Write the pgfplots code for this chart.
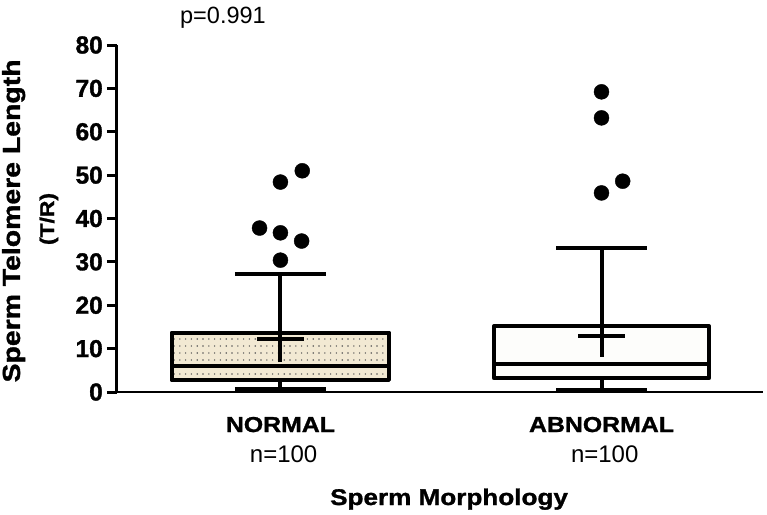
\documentclass[border=0pt]{standalone}
\usepackage{fontspec}
\setmainfont{Liberation Sans}
\newfontfamily\widefont{Liberation Sans}[FakeStretch=1.15, BoldFeatures={FakeBold=1.3}]
\newfontfamily\tickfont{Liberation Sans}[BoldFeatures={FakeBold=1.3}]
\usepackage{pgfplots}
\pgfplotsset{compat=1.18}
\usetikzlibrary{patterns.meta}

\definecolor{beige}{RGB}{242,233,211}
\definecolor{offwhite}{RGB}{253,253,251}

% sparse dot fill of the NORMAL box
\tikzdeclarepattern{
  name=sparsedots,
  type=uncolored,
  bottom left={(-1pt,-1pt)},
  top right={(4.8pt,6pt)},
  tile size={(5.8pt,7pt)},
  code={\fill (0,0) circle (0.8pt);}
}

\pgfplotsset{
  bx/.style={black, line width=4pt, line cap=butt},
}

\begin{document}
\begin{tikzpicture}
\path[use as bounding box] (-117pt,-122pt) rectangle (650pt,392pt);
\begin{axis}[
    at={(0,0)}, anchor=south west,
    scale only axis,
    width=646pt, height=347pt,
    xmin=0.491, xmax=2.503,
    ymin=0, ymax=80,
    clip=false,
    axis lines=left,
    axis line style={-, black},
    y axis line style={line width=3pt},
    x axis line style={line width=2.5pt},
    xtick={1,2},
    xticklabels={NORMAL,ABNORMAL},
    xtick style={draw=none},
    xticklabel style={font=\widefont\bfseries\fontsize{21.6}{24}\selectfont, anchor=base, yshift=-30pt},
    ytick={0,10,...,80},
    tick align=outside,
    major tick length=10pt,
    ytick style={line width=3pt, black},
    yticklabel style={font=\tickfont\bfseries\fontsize{24.5}{26}\selectfont, anchor=east, inner sep=0pt, xshift=-4pt},
    /pgf/number format/assume math mode=true,
    ylabel={Sperm Telomere Length},
    ylabel style={font=\widefont\bfseries\fontsize{24.7}{27}\selectfont, at={(axis description cs:-0.1502,0.493)}, anchor=base},
    xlabel={Sperm Morphology},
    xlabel style={font=\widefont\bfseries\fontsize{22.7}{25}\selectfont, at={(axis description cs:0.514,0)}, anchor=base, yshift=-113pt},
]
% NORMAL box
\addplot[bx, line join=round, preaction={fill=beige}, pattern=sparsedots, pattern color=black!65]
  coordinates {(0.662,2.8) (1.338,2.8) (1.338,13.6) (0.662,13.6)} -- cycle;
\addplot[bx] coordinates {(0.662,6.0) (1.338,6.0)};
\addplot[bx] coordinates {(1,6.9) (1,27.2)};
\addplot[bx] coordinates {(0.858,27.2) (1.142,27.2)};
\addplot[bx] coordinates {(0.928,12.2) (1.072,12.2)};
\addplot[bx] coordinates {(1,2.8) (1,0.7)};
\addplot[bx] coordinates {(0.858,0.7) (1.142,0.7)};
\addplot[only marks, mark=*, mark size=7.5pt, mark options={fill=black, draw=none}]
  coordinates {(1.068,51.0) (1,48.4) (0.935,37.8) (1,36.7) (1.066,34.8) (1,30.4)};

% ABNORMAL box
\addplot[bx, line join=round, fill=offwhite]
  coordinates {(1.665,3.2) (2.335,3.2) (2.335,15.2) (1.665,15.2)} -- cycle;
\addplot[bx] coordinates {(1.665,6.5) (2.335,6.5)};
\addplot[bx] coordinates {(2,8.1) (2,33.2)};
\addplot[bx] coordinates {(1.859,33.2) (2.141,33.2)};
\addplot[bx] coordinates {(1.927,12.9) (2.073,12.9)};
\addplot[bx] coordinates {(2,3.2) (2,0.5)};
\addplot[bx] coordinates {(1.859,0.5) (2.141,0.5)};
\addplot[only marks, mark=*, mark size=7.5pt, mark options={fill=black, draw=none}]
  coordinates {(2,69.2) (2,63.2) (2.066,48.6) (2,45.9)};

\node[rotate=90, anchor=base, font=\widefont\bfseries\fontsize{19.9}{22}\selectfont]
  at (axis description cs:-0.0975,0.4986) {(T/R)};
\node[anchor=base, font=\fontsize{24}{26}\selectfont] at (axis cs:1.01,0) [yshift=-70pt] {n=100};
\node[anchor=base, font=\fontsize{24}{26}\selectfont] at (axis cs:2.01,0) [yshift=-70pt] {n=100};
\node[anchor=base, font=\fontsize{23.5}{26}\selectfont] at (axis description cs:0.164,1.0634) {p=0.991};
\end{axis}
\end{tikzpicture}
\end{document}
